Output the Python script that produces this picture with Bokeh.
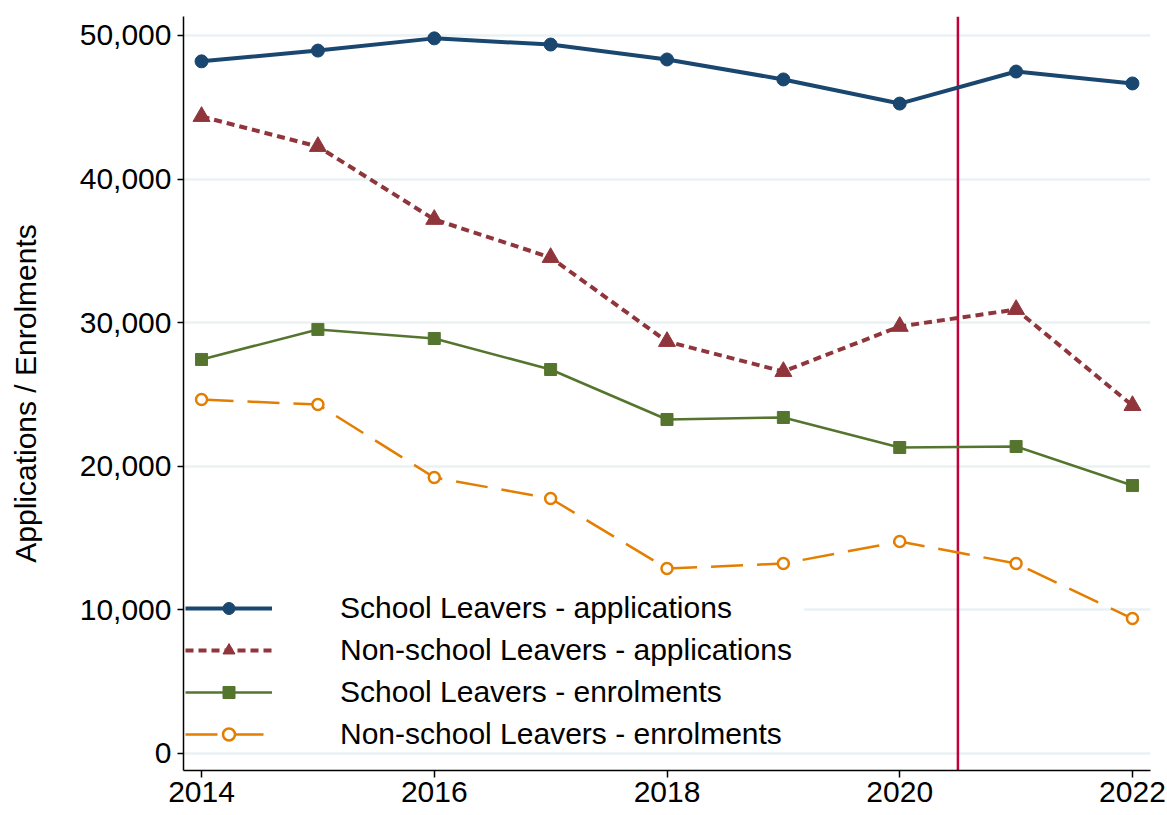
from bokeh.plotting import figure
from bokeh.models import (Legend, LegendItem, Span, FixedTicker,
                          NumeralTickFormatter, Range1d)
from bokeh.embed import file_html
from bokeh.resources import INLINE

# Annual intake figures, 2014-2022
years = [2014, 2015, 2016, 2017, 2018, 2019, 2020, 2021, 2022]
school_applications = [48200, 48950, 49800, 49370, 48330, 46940, 45260, 47490, 46660]
nonschool_applications = [44360, 42270, 37190, 34540, 28690, 26600, 29740, 30920, 24230]
school_enrolments = [27440, 29530, 28900, 26740, 23260, 23400, 21310, 21380, 18660]
nonschool_enrolments = [24650, 24300, 19220, 17760, 12880, 13230, 14760, 13230, 9400]

series_labels = [
    "School Leavers - applications",
    "Non-school Leavers - applications",
    "School Leavers - enrolments",
    "Non-school Leavers - enrolments",
]
x_ticks = [2014, 2016, 2018, 2020, 2022]
y_ticks = [0, 10000, 20000, 30000, 40000, 50000]
policy_break = 2020.5

FONT = "Liberation Sans"

p = figure(width=1167, height=815, output_backend="svg", toolbar_location=None,
           x_range=Range1d(2013.845, 2022.155), y_range=Range1d(-1184, 51323),
           min_border_left=183, min_border_right=17, min_border_top=16,
           min_border_bottom=45)
p.outline_line_color = None
p.background_fill_color = "white"
p.border_fill_color = "white"

# grid
p.xgrid.grid_line_color = None
p.ygrid.grid_line_color = "#eaf2f3"
p.ygrid.grid_line_width = 2.5

# axes
p.xaxis.ticker = FixedTicker(ticks=x_ticks)
p.yaxis.ticker = FixedTicker(ticks=y_ticks)
p.yaxis.formatter = NumeralTickFormatter(format="0,0")
for ax in (p.xaxis[0], p.yaxis[0]):
    ax.axis_line_color = "black"
    ax.axis_line_width = 1.5
    ax.major_tick_line_color = "black"
    ax.major_tick_line_width = 1.5
    ax.major_tick_in = 0
    ax.minor_tick_line_color = None
    ax.major_label_text_font = FONT
    ax.major_label_text_color = "black"
p.xaxis.major_tick_out = 7
p.yaxis.major_tick_out = 6
p.xaxis.major_label_text_font_size = "30px"
p.yaxis.major_label_text_font_size = "30px"
p.xaxis.major_label_standoff = 4
p.yaxis.major_label_standoff = 6
p.yaxis.axis_label = "Applications / Enrolments"
p.yaxis.axis_label_text_font = FONT
p.yaxis.axis_label_text_font_style = "normal"
p.yaxis.axis_label_text_font_size = "30px"
p.yaxis.axis_label_text_color = "black"
p.yaxis.axis_label_standoff = 35

# vertical reference line
p.add_layout(Span(location=policy_break, dimension="height",
                  line_color="#c4003a", line_width=2.5, level="underlay"))

navy, maroon, green, orange = "#1a476f", "#90353b", "#55752f", "#e37e00"

l1 = p.line(years, school_applications, line_color=navy, line_width=4)
s1 = p.scatter(years, school_applications, marker="circle", size=13,
               fill_color=navy, line_color=navy)

l2 = p.line(years, nonschool_applications, line_color=maroon, line_width=4,
            line_dash="8 5")
s2 = p.scatter(years, nonschool_applications, marker="triangle", size=17,
               fill_color=maroon, line_color=maroon)

l3 = p.line(years, school_enrolments, line_color=green, line_width=2.5)
s3 = p.scatter(years, school_enrolments, marker="square", size=12,
               fill_color=green, line_color=green)

l4 = p.line(years, nonschool_enrolments, line_color=orange, line_width=2.5,
            line_dash="32 14")
s4 = p.scatter(years, nonschool_enrolments, marker="circle", size=11,
               fill_color="white", line_color=orange, line_width=2.5)

legend = Legend(items=[
    LegendItem(label=series_labels[0], renderers=[l1, s1]),
    LegendItem(label=series_labels[1], renderers=[l2, s2]),
    LegendItem(label=series_labels[2], renderers=[l3, s3]),
    LegendItem(label=series_labels[3], renderers=[l4, s4]),
], location=(2, 19))
legend.background_fill_color = "white"
legend.background_fill_alpha = 1
legend.border_line_color = None
legend.label_text_font = FONT
legend.label_text_font_size = "30px"
legend.label_text_color = "black"
legend.glyph_width = 87
legend.glyph_height = 30
legend.label_standoff = 68
legend.label_height = 30
legend.label_width = 464
legend.spacing = 8
legend.padding = 10
legend.margin = 0
p.add_layout(legend)

open("out.html", "w").write(file_html(p, INLINE))
